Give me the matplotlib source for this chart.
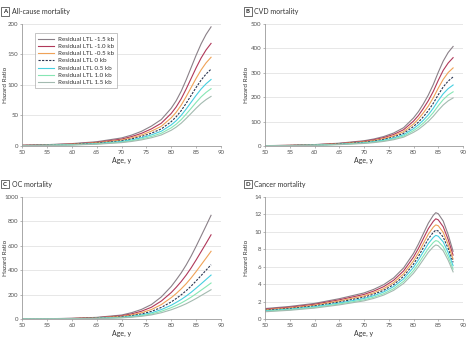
import matplotlib
matplotlib.use("Agg")
import matplotlib.pyplot as plt

plt.rcParams["font.family"] = ["Lato", "DejaVu Sans"]

AGES = [50, 55, 60, 65, 70, 72, 74, 76, 78, 80, 81, 82, 83, 84, 85, 86, 87, 88]
AGES_D = [50, 55, 60, 65, 70, 72, 74, 76, 78, 80, 81, 82, 83, 84, 84.5, 85, 86, 87, 88]

LABELS = ["Residual LTL -1.5 kb", "Residual LTL -1.0 kb", "Residual LTL -0.5 kb",
          "Residual LTL 0 kb", "Residual LTL 0.5 kb", "Residual LTL 1.0 kb", "Residual LTL 1.5 kb"]
COLORS = ["#8a8088", "#b0385a", "#efa257", "#2b3550", "#46cfe0", "#86e6b4", "#a3bab0"]
STYLES = ["-", "-", "-", "--", "-", "-", "-"]

# A: All-cause mortality
A_m15 = [1.2, 2.2, 3.9, 7.0, 13.2, 17.8, 24, 32.6, 43.4, 62, 74.4, 89.9, 108.5, 128.7, 148.8, 167.4, 182.9, 195.3]
A_m10 = [1.1, 1.9, 3.3, 6.0, 11.3, 15.4, 20.7, 28, 37.4, 53.4, 64.1, 77.4, 93.5, 110.8, 128.2, 144.2, 157.5, 168.2]
A_m05 = [0.9, 1.6, 2.9, 5.2, 9.8, 13.3, 17.9, 24.3, 32.3, 46.2, 55.4, 67, 80.9, 95.9, 110.9, 124.7, 136.3, 145.5]
A_0 = [0.8, 1.4, 2.5, 4.5, 8.5, 11.5, 15.5, 21, 28, 40, 48, 58, 70, 83, 96, 108, 118, 126]
A_p05 = [0.7, 1.2, 2.2, 3.9, 7.4, 9.9, 13.4, 18.2, 24.2, 34.6, 41.5, 50.2, 60.6, 71.8, 83, 93.4, 102, 109]
A_p10 = [0.6, 1.0, 1.9, 3.4, 6.3, 8.6, 11.5, 15.6, 20.9, 29.8, 35.8, 43.2, 52.2, 61.8, 71.5, 80.5, 87.9, 93.9]
A_p15 = [0.5, 0.9, 1.6, 2.9, 5.5, 7.4, 10, 13.5, 18.1, 25.8, 31, 37.4, 45.2, 53.5, 61.9, 69.7, 76.1, 81.3]

# B: CVD mortality
B_m15 = [1.4, 2.9, 5.8, 11.5, 21.6, 28.8, 38.9, 53.3, 74.9, 115, 141, 173, 209, 252, 302, 348, 383, 408]
B_m10 = [1.3, 2.6, 5.1, 10.2, 19.2, 25.6, 34.6, 47.4, 66.6, 102, 125, 154, 186, 224, 269, 310, 340, 362]
B_m05 = [1.1, 2.3, 4.5, 9, 17, 22.6, 30.5, 41.8, 58.8, 90, 111, 136, 164, 198, 237, 273, 301, 320]
B_0 = [1, 2, 4, 8, 15, 20, 27, 37, 52, 80, 98, 120, 145, 175, 210, 242, 266, 283]
B_p05 = [0.9, 1.8, 3.5, 7.1, 13.3, 17.7, 23.9, 32.7, 46, 71, 87, 106, 128, 155, 186, 214, 235, 250]
B_p10 = [0.8, 1.6, 3.1, 6.3, 11.8, 15.7, 21.2, 29, 40.8, 63, 77, 94, 114, 137, 165, 190, 209, 222]
B_p15 = [0.7, 1.4, 2.8, 5.6, 10.4, 13.9, 18.8, 25.8, 36.2, 56, 68, 84, 101, 122, 146, 168, 185, 197]

# C: OC mortality
C_m15 = [1, 2.3, 5.7, 13.4, 32.5, 51.6, 78.3, 118, 181, 267, 321, 378, 443, 516, 596, 680, 764, 850]
C_m10 = [0.8, 1.9, 4.7, 10.9, 26.4, 41.9, 63.6, 96, 147, 217, 260, 307, 360, 419, 484, 552, 620, 690]
C_m05 = [0.6, 1.5, 3.7, 8.7, 21.2, 33.7, 51.1, 77.3, 118, 175, 209, 247, 289, 337, 389, 444, 499, 555]
C_0 = [0.5, 1.2, 3, 7, 17, 27, 41, 62, 95, 140, 168, 198, 232, 270, 312, 356, 400, 445]
C_p05 = [0.4, 1, 2.4, 5.7, 13.8, 21.9, 33.2, 50.2, 77, 113, 136, 160, 188, 219, 253, 288, 324, 360]
C_p10 = [0.3, 0.8, 2, 4.6, 11.3, 17.9, 27.2, 41.1, 63, 93, 111, 131, 154, 179, 207, 236, 265, 295]
C_p15 = [0.3, 0.6, 1.6, 3.8, 9.2, 14.6, 22.1, 33.5, 51.3, 75.6, 90.7, 107, 125, 146, 168, 192, 216, 240]

# D: Cancer mortality
D_m15 = [1.2, 1.44, 1.79, 2.33, 2.99, 3.41, 3.95, 4.72, 5.86, 7.53, 8.61, 9.81, 11.0, 11.9, 12.2, 12.08, 11.24, 9.69, 7.77]
D_m10 = [1.13, 1.35, 1.69, 2.2, 2.82, 3.21, 3.72, 4.45, 5.52, 7.1, 8.11, 9.24, 10.37, 11.21, 11.5, 11.38, 10.59, 9.13, 7.33]
D_m05 = [1.06, 1.27, 1.59, 2.07, 2.65, 3.02, 3.49, 4.18, 5.19, 6.67, 7.62, 8.68, 9.74, 10.54, 10.8, 10.7, 9.95, 8.58, 6.88]
D_0 = [1.0, 1.2, 1.5, 1.95, 2.5, 2.85, 3.3, 3.95, 4.9, 6.3, 7.2, 8.2, 9.2, 9.95, 10.2, 10.1, 9.4, 8.1, 6.5]
D_p05 = [0.94, 1.13, 1.41, 1.83, 2.35, 2.68, 3.11, 3.72, 4.61, 5.93, 6.78, 7.72, 8.66, 9.36, 9.6, 9.5, 8.85, 7.62, 6.12]
D_p10 = [0.88, 1.06, 1.32, 1.72, 2.2, 2.51, 2.91, 3.48, 4.32, 5.56, 6.35, 7.23, 8.11, 8.78, 9.0, 8.91, 8.29, 7.14, 5.73]
D_p15 = [0.83, 1.0, 1.25, 1.62, 2.08, 2.37, 2.75, 3.29, 4.08, 5.25, 6.0, 6.83, 7.66, 8.29, 8.5, 8.41, 7.83, 6.75, 5.41]

PANELS = [
    ("A", "All-cause mortality", AGES, [A_m15, A_m10, A_m05, A_0, A_p05, A_p10, A_p15], 200, 50),
    ("B", "CVD mortality", AGES, [B_m15, B_m10, B_m05, B_0, B_p05, B_p10, B_p15], 500, 100),
    ("C", "OC mortality", AGES, [C_m15, C_m10, C_m05, C_0, C_p05, C_p10, C_p15], 1000, 200),
    ("D", "Cancer mortality", AGES_D, [D_m15, D_m10, D_m05, D_0, D_p05, D_p10, D_p15], 14, 2),
]

W, H = 467, 343
fig = plt.figure(figsize=(W / 100, H / 100), dpi=100)
fig.patch.set_facecolor("white")

# axes boxes in pixels: left, top, right, bottom ; title y ; ylabel x
BOXES = [(22, 24, 221, 146, 11.5, 5.5), (265, 24, 463, 146, 11.5, 247),
         (22, 197, 221, 319, 184, 5.5), (265, 197, 463, 319, 184, 247)]
TICKC = "#555555"
for (letter, title, ages, series, ymax, ystep), (l, t, r, b, ty, ylx) in zip(PANELS, BOXES):
    ax = fig.add_axes([l / W, 1 - b / H, (r - l) / W, (b - t) / H])
    for vals, lab, c, ls in zip(series, LABELS, COLORS, STYLES):
        ax.plot(ages, vals, color=c, lw=0.8, ls=ls, label=lab,
                dashes=(2, 1.2) if ls == "--" else (None, None))
    ax.set_xlim(50, 90)
    ax.set_ylim(0, ymax)
    ax.set_xticks(range(50, 91, 5))
    yt = [ystep * i for i in range(int(round(ymax / ystep)) + 1)]
    ax.set_yticks(yt)
    ax.yaxis.grid(True, color="#e3e3e3", lw=0.6)
    ax.set_axisbelow(True)
    for s in ("top", "right"):
        ax.spines[s].set_visible(False)
    for s in ("left", "bottom"):
        ax.spines[s].set_color("#9a9a9a")
        ax.spines[s].set_linewidth(0.6)
    ax.tick_params(labelsize=4.4, colors=TICKC, length=1.6, width=0.5, pad=1.0)
    ax.tick_params(axis="both", color="#9a9a9a")
    ax.set_xlabel("Age, y", fontsize=5, color="#333333", labelpad=2)
    ax.set_ylabel("Hazard Ratio", fontsize=4.6, color="#333333", va="center")
    ax.yaxis.set_label_coords((ylx - l) / (r - l), 0.5)
    # panel title
    fig.text((l - 19) / W, 1 - ty / H, letter,
             fontsize=4.3, fontweight="bold", color="#222222", va="center", ha="left",
             bbox=dict(boxstyle="square,pad=0.3", fc="white", ec="#333333", lw=0.5))
    fig.text((l - 10.5) / W, 1 - ty / H, title,
             fontsize=5, color="#333333", va="center", ha="left")
    if letter == "A":
        leg = ax.legend(loc="upper left", bbox_to_anchor=(0.05, 0.95), fontsize=4.5,
                        frameon=True, fancybox=False, edgecolor="#9a9a9a",
                        handlelength=2.5, handletextpad=0.6, labelspacing=0.3,
                        borderpad=0.5, labelcolor="#333333")
        leg.get_frame().set_linewidth(0.5)

fig.savefig("out.png", dpi=100, facecolor="white")
